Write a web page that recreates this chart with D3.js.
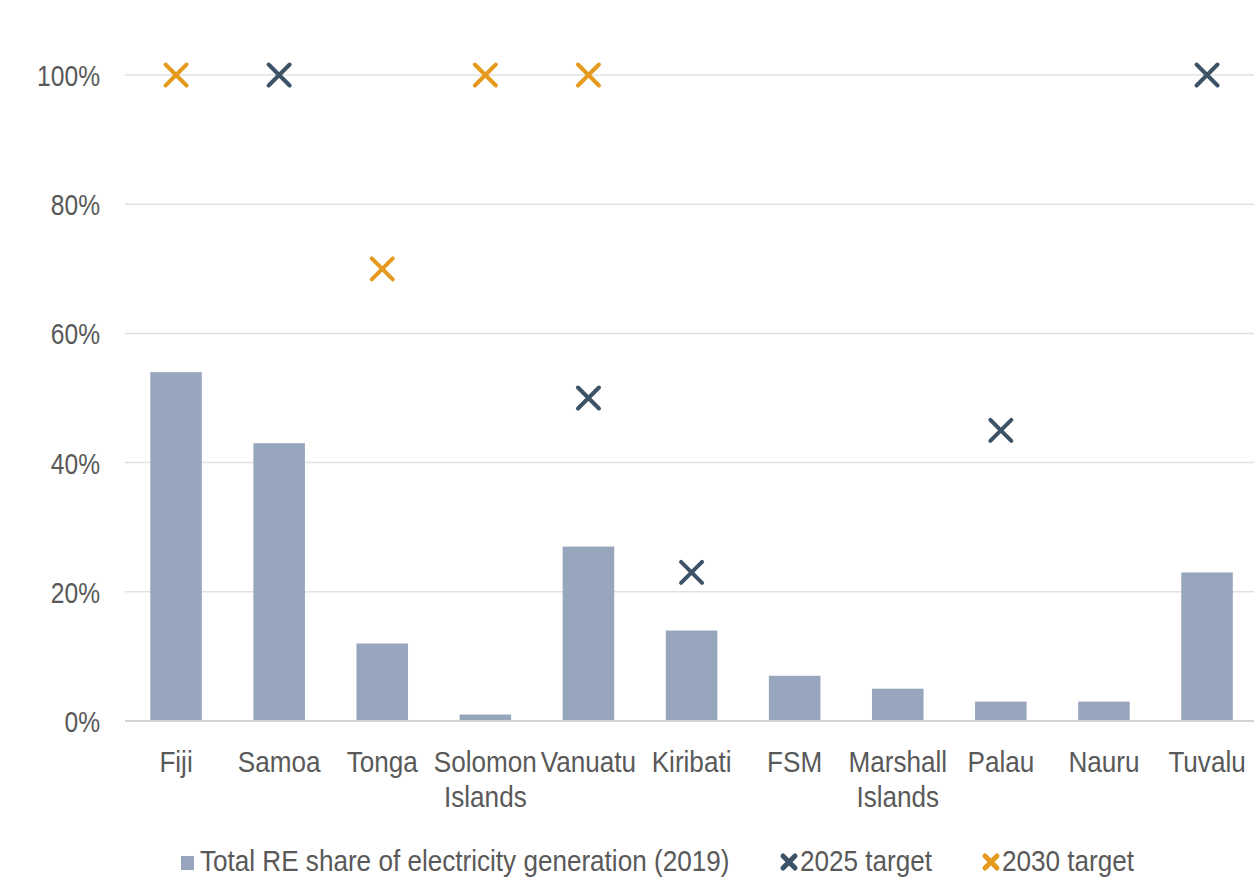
<!DOCTYPE html>
<html>
<head>
<meta charset="utf-8">
<script src="https://cdn.jsdelivr.net/npm/d3@7"></script>
<style>
  html, body { margin: 0; padding: 0; background: #ffffff; }
  svg { display: block; }
  text { font-family: "Liberation Sans", Arial, sans-serif; fill: #595959; }
</style>
</head>
<body>
<svg id="chart" width="1254" height="881"></svg>
<script>
const categories = ["Fiji", "Samoa", "Tonga", "Solomon Islands", "Vanuatu", "Kiribati", "FSM", "Marshall Islands", "Palau", "Nauru", "Tuvalu"];
const reShare2019 = [54, 43, 12, 1, 27, 14, 7, 5, 3, 3, 23];
const target2025 = [null, 100, null, null, 50, 23, null, null, 45, null, 100];
const target2030 = [100, null, 70, 100, 100, null, null, null, null, null, null];
const yTicks = [0, 20, 40, 60, 80, 100];
const seriesNames = ["Total RE share of electricity generation (2019)", "2025 target", "2030 target"];

const colors = { bar: "#97a6bd", t2025: "#3c5266", t2030: "#e59a1d", grid: "#e1e1e1", base: "#d4d4d4", text: "#595959" };
const FONT = '"Liberation Sans", Arial, sans-serif';
const FS = 30, SX = 0.82, SX2 = 0.87;

const svg = d3.select("#chart");
const x = d3.scaleBand().domain(categories).range([124.5, 1258.6]).paddingInner(0.5).paddingOuter(0.25);
const y = d3.scaleLinear().domain([0, 100]).range([721, 75]);

// gridlines
svg.append("g").selectAll("line").data(yTicks.filter(d => d > 0)).join("line")
  .attr("x1", 125).attr("x2", 1254)
  .attr("y1", d => y(d)).attr("y2", d => y(d))
  .attr("stroke", colors.grid).attr("stroke-width", 1.5);

// y axis labels
const yAxis = svg.append("g").attr("transform", "translate(100,0)")
  .call(d3.axisLeft(y).tickValues(yTicks).tickFormat(d => d + "%").tickSize(0).tickPadding(0));
yAxis.select(".domain").remove();
yAxis.selectAll("text").attr("x", 0).attr("font-size", FS).attr("dy", "0.35em")
  .attr("transform", `scale(${SX},1)`)
  .style("font-family", FONT).attr("fill", colors.text);

// bars
svg.append("g").selectAll("rect").data(categories).join("rect")
  .attr("x", d => x(d))
  .attr("width", x.bandwidth())
  .attr("y", (d, i) => y(reShare2019[i]))
  .attr("height", (d, i) => y(0) - y(reShare2019[i]))
  .attr("fill", colors.bar);

// baseline
svg.append("line").attr("x1", 125).attr("x2", 1254).attr("y1", y(0)).attr("y2", y(0))
  .attr("stroke", colors.base).attr("stroke-width", 2);

// x axis labels
const xAxis = svg.append("g").attr("transform", `translate(0,${y(0)})`)
  .call(d3.axisBottom(x).tickSize(0).tickPadding(0));
xAxis.select(".domain").remove();
xAxis.selectAll("text").each(function (d) {
  const t = d3.select(this);
  t.text(null).attr("x", 0).attr("y", 0).attr("dy", null)
    .attr("font-size", FS)
    .attr("transform", `scale(${SX2},1)`)
    .style("font-family", FONT)
    .attr("fill", colors.text);
  d.split(" ").forEach((w, i) => {
    t.append("tspan").attr("x", 0).attr("y", 51 + i * 35).text(w);
  });
});

// X markers
function xMark(g, cx, cy, r, color, sw) {
  g.append("path")
    .attr("d", `M${cx - r},${cy - r}L${cx + r},${cy + r}M${cx - r},${cy + r}L${cx + r},${cy - r}`)
    .attr("stroke", color).attr("stroke-width", sw).attr("stroke-linecap", "round").attr("fill", "none");
}
const mg = svg.append("g");
categories.forEach((c, i) => {
  const cx = x(c) + x.bandwidth() / 2;
  if (target2025[i] != null) xMark(mg, cx, y(target2025[i]), 10.5, colors.t2025, 4);
  if (target2030[i] != null) xMark(mg, cx, y(target2030[i]), 10.5, colors.t2030, 4);
});

// legend
const lg = svg.append("g");
const ly = 862;
function legendText(px, label) {
  lg.append("g").attr("transform", `translate(${px},871)`)
    .append("text").attr("x", 0).attr("y", 0)
    .attr("font-size", FS).attr("transform", `scale(${SX2},1)`).text(label);
}
lg.append("rect").attr("x", 181).attr("y", 856).attr("width", 13).attr("height", 14).attr("fill", colors.bar);
legendText(200, seriesNames[0]);
xMark(lg, 789, ly, 6, colors.t2025, 5);
legendText(800, seriesNames[1]);
xMark(lg, 991, ly, 6, colors.t2030, 5);
legendText(1002, seriesNames[2]);
</script>
</body>
</html>
